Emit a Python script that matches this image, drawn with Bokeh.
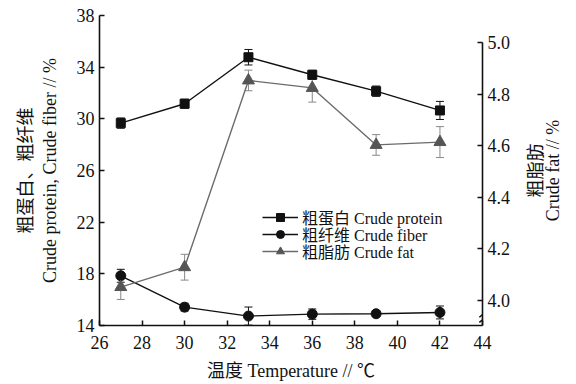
import math
from bokeh.plotting import figure
from bokeh.layouts import row
from bokeh.models import (Range1d, LinearAxis, Whisker, ColumnDataSource, Legend, LegendItem,
                          TeeHead, PrintfTickFormatter)
from bokeh.core.properties import value
from bokeh.embed import file_html
from bokeh.resources import INLINE

temperature = [27, 30, 33, 36, 39, 42]
protein = [29.67, 31.17, 34.77, 33.41, 32.14, 30.65]
protein_err = [0.4, 0.35, 0.6, 0.35, 0.4, 0.7]
fiber = [17.85, 15.42, 14.73, 14.88, 14.91, 15.01]
fiber_err = [0.5, 0.3, 0.7, 0.4, 0.2, 0.5]
fat = [4.052, 4.129, 4.853, 4.824, 4.603, 4.614]
fat_err = [0.048, 0.05, 0.04, 0.055, 0.04, 0.06]

x_ticks = [26, 28, 30, 32, 34, 36, 38, 40, 42, 44]
left_ticks = [14, 18, 22, 26, 30, 34, 38]
right_ticks = [4.0, 4.2, 4.4, 4.6, 4.8, 5.0]
right_title = ["粗脂肪", "Crude fat // %"]
break_x = [43.85, 43.85]
break_y0 = [3.915, 3.935]
break_x1 = [44.15, 44.15]
break_y1 = [3.935, 3.955]

FONT = "Liberation Serif, Noto Sans CJK SC"
BLACK = "#111111"
GRAY = "#6b6b6b"

p = figure(frame_width=383, frame_height=310, output_backend="svg", toolbar_location=None,
           x_range=Range1d(26, 44), y_range=Range1d(14, 38),
           min_border_left=99, min_border_right=35, min_border_top=15, min_border_bottom=40)
p.extra_y_ranges = {"fat": Range1d(3.903, 5.1047)}
p.outline_line_color = None
p.xgrid.visible = False
p.ygrid.visible = False
p.background_fill_color = "white"
p.border_fill_color = "white"

def style_axis(ax):
    ax.axis_line_color = BLACK
    ax.axis_line_width = 1.6
    ax.major_tick_line_color = BLACK
    ax.major_tick_line_width = 1.5
    ax.major_tick_in = 5
    ax.major_tick_out = 0
    ax.minor_tick_line_color = None
    ax.major_label_text_font = FONT
    ax.major_label_text_font_size = "18px"
    ax.major_label_text_color = BLACK
    ax.major_label_standoff = 5
    ax.axis_label_text_font = FONT
    ax.axis_label_text_font_size = "18px"
    ax.axis_label_text_font_style = "normal"
    ax.axis_label_text_color = BLACK

xa = p.xaxis[0]
style_axis(xa)
xa.ticker = x_ticks
xa.axis_label = "温度 Temperature // ℃"
xa.axis_label_standoff = 9
xa.major_label_standoff = 10

ya = p.yaxis[0]
style_axis(ya)
ya.ticker = left_ticks
ya.axis_label = "粗蛋白、粗纤维\nCrude protein, Crude fiber // %"
ya.axis_label_standoff = 14

ra = LinearAxis(y_range_name="fat", ticker=right_ticks, bounds=(3.903, 5.0),
                formatter=PrintfTickFormatter(format="%.1f"))
style_axis(ra)
p.add_layout(ra, "right")

# lines and markers
lp = p.line(temperature, protein, line_color=BLACK, line_width=1.4)
sp = p.scatter(temperature, protein, marker="square", size=9, fill_color=BLACK, line_color=BLACK)
lf = p.line(temperature, fiber, line_color=BLACK, line_width=1.4)
sf = p.scatter(temperature, fiber, marker="circle", size=10, fill_color=BLACK, line_color=BLACK)
lt = p.line(temperature, fat, line_color=GRAY, line_width=1.4, y_range_name="fat")
st = p.scatter(temperature, fat, marker="triangle", size=12, fill_color="#555555", line_color="#555555",
               y_range_name="fat")

def add_err(vals, errs, color, rng=None):
    src = ColumnDataSource(dict(x=temperature,
                                lo=[v - e for v, e in zip(vals, errs)],
                                hi=[v + e for v, e in zip(vals, errs)]))
    kw = {}
    if rng:
        kw["y_range_name"] = rng
    w = Whisker(source=src, base="x", lower="lo", upper="hi", dimension="height",
                line_color=color, line_width=1,
                upper_head=TeeHead(size=8, line_color=color, line_width=1),
                lower_head=TeeHead(size=8, line_color=color, line_width=1), **kw)
    p.add_layout(w)

add_err(protein, protein_err, BLACK)
add_err(fiber, fiber_err, BLACK)
add_err(fat, fat_err, "#888888", "fat")

# axis break marks
p.segment(break_x, break_y0, break_x1, break_y1, line_color=BLACK, line_width=1.5, y_range_name="fat")

# legend: one row per Legend so the row pitch matches the reference
rows = [("粗蛋白 Crude protein", [lp, sp], 106),
        ("粗纤维 Crude fiber", [lf, sf], 89),
        ("粗脂肪 Crude fat", [lt, st], 72)]
for label, rends, yc in rows:
    lg = Legend(items=[LegendItem(label=label, renderers=rends)], location=(163, yc - 10))
    lg.background_fill_alpha = 0
    lg.border_line_color = None
    lg.label_text_font = FONT
    lg.label_text_font_size = "16px"
    lg.label_text_color = BLACK
    lg.glyph_width = 36
    lg.glyph_height = 20
    lg.label_height = 20
    lg.padding = 0
    lg.margin = 0
    lg.label_standoff = 4
    p.add_layout(lg, "center")

# right-hand axis title, reading bottom to top, in a narrow companion figure
t = figure(width=55, frame_height=310, output_backend="svg", toolbar_location=None,
           x_range=Range1d(0, 55), y_range=Range1d(0, 310),
           min_border_left=0, min_border_right=0, min_border_top=15, min_border_bottom=58)
t.axis.visible = False
t.xgrid.visible = False
t.ygrid.visible = False
t.outline_line_color = None
t.background_fill_color = "white"
t.border_fill_color = "white"
t.text(x=[18, 35], y=[155, 155], text=right_title, angle=math.pi / 2,
       text_align="center", text_baseline="middle",
       text_font=value(FONT), text_font_size="18px", text_color=BLACK)

layout = row(p, t, spacing=0)
open("out.html", "w").write(file_html(layout, INLINE))
